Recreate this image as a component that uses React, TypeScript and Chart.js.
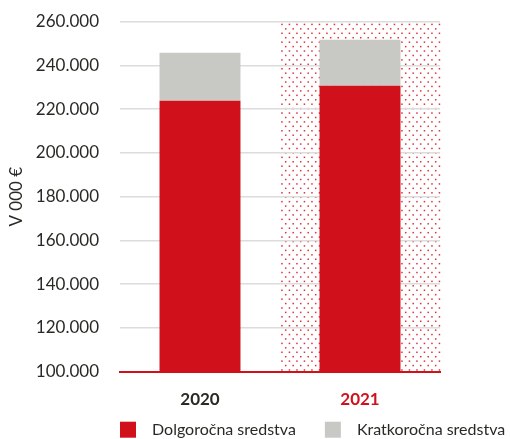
import React, { useEffect, useRef } from "react";
import { Chart, registerables } from "chart.js";

Chart.register(...registerables);

const categories = ["2020", "2021"];
const seriesNames = ["Dolgoročna sredstva", "Kratkoročna sredstva"];
const dolgorocna = [223900, 230700];
const kratkorocna = [21900, 21100];
const yMin = 100000;
const yMax = 260000;
const yStep = 20000;

const RED = "#d0111b";
const GRAY = "#c8c9c5";
const TEXT = "#2a2a25";
const FONT = "Lato, 'Noto Sans', sans-serif";

function fmt(v: number): string {
  const s = Math.round(v).toString();
  return s.replace(/\B(?=(\d{3})+(?!\d))/g, ".");
}

const dotsPlugin = {
  id: "dots",
  beforeDraw(chart: any) {
    const { ctx, chartArea, scales } = chart;
    const x = scales.x;
    const idx = categories.length - 1;
    const cw = (chartArea.right - chartArea.left) / categories.length;
    const cx = x.getPixelForValue(idx);
    const left = cx - cw / 2;
    const right = cx + cw / 2;
    ctx.save();
    ctx.fillStyle = "rgba(208,16,26,0.85)";
    let row = 0;
    for (let y = chartArea.top + 2; y < chartArea.bottom - 1; y += 4.43, row++) {
      const off = row % 2 === 0 ? 1.2 : 4.95;
      for (let xx = left + off; xx < right - 1; xx += 7.5) {
        ctx.fillRect(xx, y, 1.5, 1.5);
      }
    }
    ctx.restore();
  },
};

const legendPlugin = {
  id: "customLegend",
  afterDraw(chart: any) {
    const { ctx, chartArea } = chart;
    const colors = [RED, GRAY];
    const y = chartArea.bottom + 50;
    let x = chartArea.left;
    ctx.save();
    ctx.font = `16px ${FONT}`;
    ctx.textBaseline = "middle";
    ctx.textAlign = "left";
    seriesNames.forEach((name, i) => {
      ctx.fillStyle = colors[i];
      ctx.fillRect(x, y, 16, 16);
      ctx.fillStyle = TEXT;
      ctx.fillText(name, x + 32, y + 8.5);
      x += 32 + ctx.measureText(name).width + 29;
    });
    ctx.restore();
  },
};

export default function App() {
  const ref = useRef<HTMLCanvasElement | null>(null);

  useEffect(() => {
    if (!ref.current) return;
    const chart = new Chart(ref.current, {
      type: "bar",
      data: {
        labels: categories,
        datasets: [
          {
            label: seriesNames[0],
            data: dolgorocna,
            backgroundColor: RED,
            borderWidth: 0,
            barPercentage: 0.506,
            categoryPercentage: 1,
          },
          {
            label: seriesNames[1],
            data: kratkorocna,
            backgroundColor: GRAY,
            borderWidth: 0,
            barPercentage: 0.506,
            categoryPercentage: 1,
          },
        ],
      },
      options: {
        animation: false,
        responsive: false,
        maintainAspectRatio: false,
        layout: { padding: { top: 21.7, right: 70, bottom: 0, left: 0 } },
        plugins: {
          legend: { display: false },
          tooltip: { enabled: false },
        },
        scales: {
          x: {
            stacked: true,
            grid: { display: false, drawTicks: false },
            border: { display: true, color: RED, width: 2 },
            ticks: {
              padding: 18,
              font: { family: FONT, size: 17, weight: "bold" },
              color: (c: any) => (c.index === 1 ? RED : TEXT),
            },
            afterFit: (s: any) => {
              s.height = 67.3;
              s.paddingLeft = 0;
              s.paddingRight = 0;
            },
          },
          y: {
            stacked: true,
            min: yMin,
            max: yMax,
            border: { display: false },
            grid: {
              drawTicks: false,
              lineWidth: 1.5,
              color: (c: any) => (c.tick && c.tick.value === yMin ? "rgba(0,0,0,0)" : "#dcdcdc"),
            },
            ticks: {
              stepSize: yStep,
              padding: 21,
              font: { family: FONT, size: 17 },
              color: TEXT,
              callback: (v: any) => fmt(Number(v)),
            },
            title: {
              display: true,
              text: "V 000 €",
              font: { family: FONT, size: 17 },
              color: TEXT,
              padding: { top: 6, bottom: 0 },
            },
            afterFit: (s: any) => {
              s.width = 120;
              s.paddingTop = 0;
              s.paddingBottom = 0;
            },
          },
        },
      },
      plugins: [dotsPlugin, legendPlugin],
    } as any);
    return () => chart.destroy();
  }, []);

  return (
    <div style={{ position: "absolute", left: 0, top: 0, width: 510, height: 439 }}>
      <canvas ref={ref} width={510} height={439} style={{ width: 510, height: 439, display: "block" }} />
    </div>
  );
}
